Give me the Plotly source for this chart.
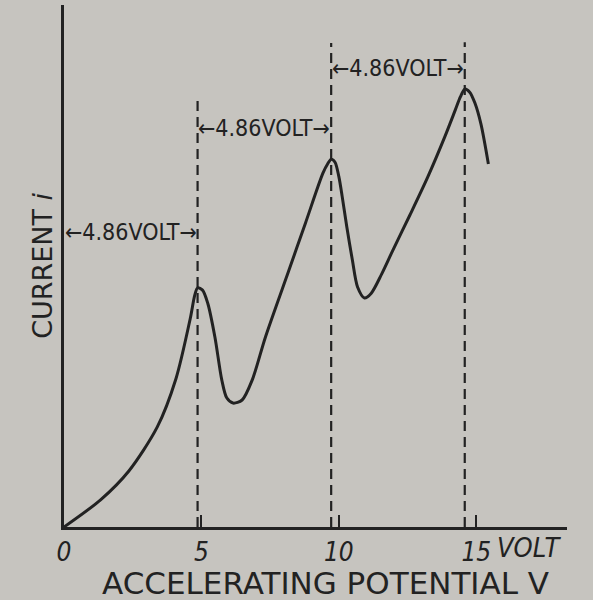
import plotly.graph_objects as go

# Accelerating potential (V) and current (arbitrary units)
voltage = [0, 1.33, 2.36, 3.39, 4.07, 4.59, 4.76, 4.86, 5.04, 5.23, 5.49, 5.74, 5.92, 6.15,
           6.48, 6.85, 7.33, 8.17, 8.79, 9.42, 9.60, 9.72, 9.86, 10.0, 10.12, 10.29, 10.49,
           10.68, 10.93, 11.18, 11.56, 11.95, 12.59, 13.24, 13.86, 14.24, 14.42, 14.58,
           14.76, 14.95, 15.17, 15.44]
current = [0, 6.2, 12.8, 22.8, 33.8, 47.5, 53.0, 54.6, 54.1, 51.1, 43.4, 33.6, 29.5, 28.3,
           29.0, 33.6, 43.4, 58.4, 69.5, 80.8, 83.0, 84.0, 83.3, 80.0, 75.5, 68.5, 61.0,
           54.8, 52.3, 53.4, 57.8, 63.0, 71.3, 80.0, 89.2, 95.3, 98.2, 100, 99.3, 96.8,
           92.0, 82.9]

# Excitation-potential markers (dashed lines)
peak_v = [4.86, 9.72, 14.58]
dash_top = [98.2, 110.5, 110.7]

# Interval annotations
span_start = [0, 4.86, 9.72]
span_end = [4.86, 9.72, 14.58]
span_y = [67.4, 91.1, 104.8]
span_label = "←4.86VOLT→"

tick_vals = [0, 5, 10, 15]
tick_text = ["0", "5", "10", "15"]

INK = "#222222"
PAPER = "#c6c4bf"
FONT = "DejaVu Sans Condensed, Liberation Sans"
FONT_WIDE = "DejaVu Sans"

fig = go.Figure()

for v, top in zip(peak_v, dash_top):
    fig.add_trace(go.Scatter(x=[v, v], y=[0, top], mode="lines",
                             line=dict(color=INK, width=2.2, dash="10px,6px"),
                             hoverinfo="skip", showlegend=False))

fig.add_trace(go.Scatter(x=voltage, y=current, mode="lines",
                         line=dict(color=INK, width=3, shape="spline", smoothing=0.8),
                         showlegend=False))

for a, b, y in zip(span_start, span_end, span_y):
    fig.add_annotation(x=(a + b) / 2, y=y, xref="x", yref="y", text=span_label,
                       showarrow=False, font=dict(family=FONT, size=23, color=INK))

fig.add_annotation(x=16.9, y=-0.04, xref="x", yref="paper", text="VOLT",
                   showarrow=False, yanchor="middle", xanchor="center",
                   font=dict(family=FONT, size=27, color=INK, style="italic"))
fig.add_annotation(x=-0.044, y=0.5, xref="paper", yref="paper", text="CURRENT <i>i</i>",
                   showarrow=False, textangle=-90, xanchor="center", yanchor="middle",
                   font=dict(family=FONT_WIDE, size=27, color=INK))
fig.add_annotation(x=0.52, y=-0.108, xref="paper", yref="paper",
                   text="ACCELERATING POTENTIAL V", showarrow=False,
                   yanchor="middle", xanchor="center",
                   font=dict(family=FONT_WIDE, size=31, color=INK))

fig.update_xaxes(range=[0, 18.3], showline=True, linecolor=INK, linewidth=3,
                 showgrid=False, zeroline=False, tickvals=tick_vals, ticktext=tick_text,
                 ticks="inside", ticklen=12, tickwidth=2, tickcolor=INK,
                 tickfont=dict(family=FONT, size=26, color=INK, style="italic"))
fig.update_yaxes(range=[0, 119.2], showline=True, linecolor=INK, linewidth=3,
                 showgrid=False, zeroline=False, showticklabels=False, ticks="")

fig.update_layout(width=593, height=600, margin=dict(l=64, r=26, t=5, b=73),
                  paper_bgcolor=PAPER, plot_bgcolor=PAPER, showlegend=False)

fig.write_html("out.html", config={"displayModeBar": False},
               post_script="document.body.style.margin='0';"
                           "document.body.style.background='" + PAPER + "';")
